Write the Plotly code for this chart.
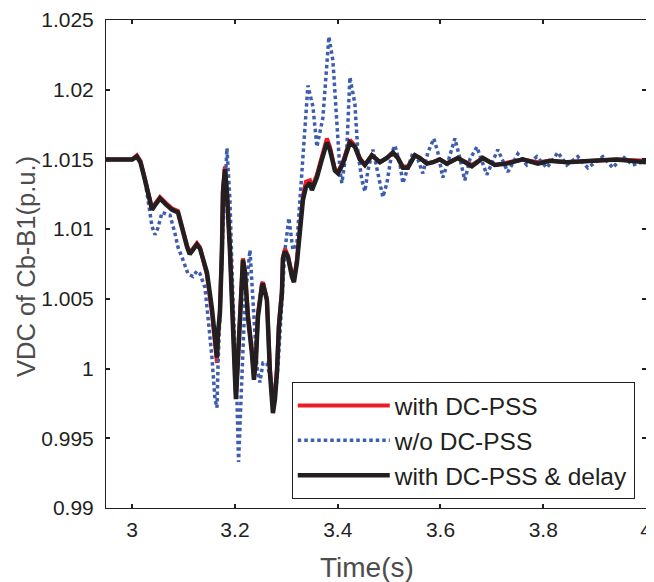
import plotly.graph_objects as go

# ---- data ----
t_black = [2.949, 2.975, 3.000, 3.009, 3.016, 3.025, 3.035, 3.0385, 3.046, 3.054, 3.065, 3.077, 3.089,
           3.097, 3.107, 3.112, 3.119, 3.126, 3.132, 3.138, 3.1455, 3.1552, 3.1611, 3.1650, 3.1669,
           3.1708, 3.1747, 3.1766, 3.1805, 3.1844, 3.1902, 3.1961, 3.2000, 3.2019, 3.2058, 3.2097,
           3.2136, 3.2155, 3.2194, 3.2253, 3.2330, 3.2369, 3.2408, 3.2447, 3.2525, 3.2544, 3.2622,
           3.2642, 3.2681, 3.2739, 3.2778, 3.2817, 3.2856, 3.2914, 3.2934, 3.2973, 3.3031, 3.3109,
           3.3148, 3.3206, 3.3264, 3.3323, 3.3381, 3.3459, 3.3498, 3.3595, 3.3692, 3.3790, 3.3848,
           3.3945, 3.4004, 3.4101, 3.4237, 3.4334, 3.4432, 3.4529, 3.4665, 3.4821, 3.4957, 3.5074,
           3.5171, 3.5268, 3.5365, 3.5502, 3.5599, 3.5735, 3.5852, 3.5988, 3.6124, 3.6338, 3.6611,
           3.6825, 3.7058, 3.7291, 3.7603, 3.7895, 3.8128, 3.8459, 3.8965, 3.9432, 4.0]
v_black = [1.0150, 1.0150, 1.0150, 1.0152, 1.0148, 1.0135, 1.0121, 1.0114, 1.0118, 1.0122, 1.0118, 1.0114, 1.0112,
           1.0100, 1.0087, 1.0082, 1.0086, 1.0089, 1.0086, 1.0078, 1.0069, 1.0043, 1.0020, 1.0008, 1.0025,
           1.0040, 1.0085, 1.0126, 1.0143, 1.0126, 1.0085, 1.0040, 0.9994, 0.9978, 1.0004, 1.0040,
           1.0062, 1.0078, 1.0069, 1.0037, 1.0011, 0.9992, 1.0006, 1.0037, 1.0059, 1.0061, 1.0049,
           1.0026, 0.9997, 0.9968, 0.9978, 0.9997, 1.0030, 1.0054, 1.0079, 1.0084, 1.0080, 1.0066,
           1.0062, 1.0076, 1.0097, 1.0121, 1.0130, 1.0133, 1.0128, 1.0137, 1.0150, 1.0162, 1.0157,
           1.0142, 1.0140, 1.0147, 1.0162, 1.0159, 1.0150, 1.0146, 1.0153, 1.0148, 1.0151, 1.0155,
           1.0151, 1.0144, 1.0144, 1.0153, 1.0151, 1.0147, 1.0148, 1.0150, 1.0147, 1.0151, 1.0145,
           1.0151, 1.0146, 1.0147, 1.0150, 1.0147, 1.0149, 1.0148, 1.0149, 1.0150, 1.0148]

t_red = t_black
v_red = [1.0150, 1.0150, 1.0150, 1.0153, 1.0149, 1.0136, 1.0122, 1.0115, 1.0119, 1.0123, 1.0119, 1.0115, 1.0113,
         1.0101, 1.0088, 1.0083, 1.0087, 1.0090, 1.0087, 1.0079, 1.0067, 1.0040, 1.0016, 1.0004, 1.0022,
         1.0042, 1.0088, 1.0128, 1.0145, 1.0128, 1.0087, 1.0038, 0.9992, 0.9981, 1.0006, 1.0042,
         1.0064, 1.0079, 1.0070, 1.0038, 1.0013, 0.9995, 1.0008, 1.0039, 1.0061, 1.0062, 1.0050,
         1.0028, 1.0000, 0.9975, 0.9982, 1.0000, 1.0033, 1.0056, 1.0080, 1.0086, 1.0081, 1.0068,
         1.0064, 1.0078, 1.0099, 1.0124, 1.0134, 1.0135, 1.0130, 1.0139, 1.0152, 1.0165, 1.0159,
         1.0143, 1.0141, 1.0148, 1.0164, 1.0160, 1.0151, 1.0146, 1.0153, 1.0148, 1.0151, 1.0155,
         1.0151, 1.0145, 1.0145, 1.0153, 1.0151, 1.0147, 1.0148, 1.0150, 1.0147, 1.0151, 1.0146,
         1.0151, 1.0146, 1.0148, 1.0150, 1.0148, 1.0149, 1.0148, 1.0149, 1.0150, 1.0149]

t_blue = [2.949, 2.975, 3.000, 3.009, 3.016, 3.025, 3.0346, 3.0385, 3.0443, 3.0502, 3.058, 3.0735, 3.0832,
          3.0891, 3.0988, 3.1085, 3.1183, 3.1260, 3.1319, 3.1416, 3.1494, 3.1552, 3.1611, 3.1650, 3.1669,
          3.1708, 3.1766, 3.1844, 3.1902, 3.1961, 3.2039, 3.2070, 3.2136, 3.2194, 3.2292, 3.2350,
          3.2428, 3.2486, 3.2544, 3.2622, 3.2681, 3.2778, 3.2836, 3.2914, 3.2973, 3.3050, 3.3128,
          3.3206, 3.3264, 3.3323, 3.3362, 3.3420, 3.3517, 3.3595, 3.3712, 3.3790, 3.3828, 3.3906,
          3.3984, 3.4043, 3.4081, 3.4179, 3.4237, 3.4334, 3.4393, 3.4471, 3.4529, 3.4587, 3.4685,
          3.4782, 3.4879, 3.4957, 3.5054, 3.5113, 3.5210, 3.5268, 3.5365, 3.5463, 3.5560, 3.5657,
          3.5755, 3.5871, 3.5949, 3.6046, 3.6144, 3.6280, 3.6377, 3.6474, 3.6572, 3.6708, 3.6902,
          3.7116, 3.7311, 3.7506, 3.7681, 3.7875, 3.8070, 3.8284, 3.8459, 3.8673, 3.8868, 3.9159,
          3.9354, 3.9549, 3.9743, 4.0]
v_blue = [1.0150, 1.0150, 1.0150, 1.0152, 1.0148, 1.0135, 1.0110, 1.0102, 1.0096, 1.0101, 1.0112, 1.0110, 1.0097,
          1.0087, 1.0078, 1.0068, 1.0066, 1.0070, 1.0068, 1.0058, 1.0030, 1.0008, 0.9978, 0.9972, 1.0001,
          1.0040, 1.0100, 1.0158, 1.0121, 1.0049, 0.9978, 0.9933, 0.9990, 1.0049, 1.0085, 1.0049,
          1.0001, 0.9990, 1.0004, 1.0004, 0.9994, 0.9978, 1.0001, 1.0049, 1.0085, 1.0108, 1.0085,
          1.0090, 1.0121, 1.0157, 1.0178, 1.0203, 1.0188, 1.0159, 1.0180, 1.0221, 1.0238, 1.0221,
          1.0178, 1.0142, 1.0133, 1.0159, 1.0209, 1.0190, 1.0155, 1.0135, 1.0127, 1.0142, 1.0157,
          1.0140, 1.0123, 1.0133, 1.0155, 1.0160, 1.0147, 1.0133, 1.0145, 1.0155, 1.0150, 1.0140,
          1.0155, 1.0165, 1.0155, 1.0137, 1.0148, 1.0165, 1.0151, 1.0135, 1.0150, 1.0159, 1.0139,
          1.0157, 1.0141, 1.0154, 1.0146, 1.0152, 1.0144, 1.0155, 1.0146, 1.0152, 1.0144, 1.0152,
          1.0144, 1.0152, 1.0146, 1.0149]

series_names = ["with DC-PSS", "w/o DC-PSS", "with DC-PSS & delay"]

x_ticks = [3.0, 3.2, 3.4, 3.6, 3.8, 4.0]
x_ticktext = ["3", "3.2", "3.4", "3.6", "3.8", "4"]
y_ticks = [0.99, 0.995, 1.0, 1.005, 1.01, 1.015, 1.02, 1.025]
y_ticktext = ["0.99", "0.995", "1", "1.005", "1.01", "1.015", "1.02", "1.025"]

x_title = "Time(s)"
y_title = "VDC of Cb-B1(p.u.)"

x_range = [2.949, 4.0]
y_range = [0.99, 1.025]

# ---- figure ----
TXT = "#231F20"
TITLE_C = "#4D4D4D"
FONT = "Liberation Sans, Arial, sans-serif"

fig = go.Figure()
fig.add_trace(go.Scatter(x=t_red, y=v_red, mode="lines", name=series_names[0],
                         legendgroup="a",
                         line=dict(color="#ED1C24", width=4)))
fig.add_trace(go.Scatter(x=t_blue, y=v_blue, mode="lines", name=series_names[1],
                         legendgroup="b",
                         line=dict(color="#3F5DAE", width=3.5, dash="3.5px,3px")))
fig.add_trace(go.Scatter(x=t_black, y=v_black, mode="lines", name=series_names[2],
                         legendgroup="c",
                         line=dict(color="#231F20", width=4.5)))

axis_common = dict(showgrid=False, zeroline=False, showline=True, linecolor=TXT, linewidth=1,
                   mirror="allticks", ticks="inside", ticklen=4, tickwidth=1.5, tickcolor=TXT,
                   automargin=False,
                   tickfont=dict(family=FONT, size=21, color=TXT))

# the page body has an 8px default margin, so the figure is sized to leave it
fig.update_layout(
    width=646, height=574,
    margin=dict(l=98, r=8, t=12, b=74),
    paper_bgcolor="white", plot_bgcolor="white",
    font=dict(family=FONT, color=TXT),
    xaxis=dict(range=x_range, tickvals=x_ticks, ticktext=x_ticktext, ticklabelstandoff=3,
               **axis_common),
    yaxis=dict(range=y_range, tickvals=y_ticks, ticktext=y_ticktext, ticklabelstandoff=7,
               **axis_common),
    legend=dict(x=0.344, y=0.258, xanchor="left", yanchor="top",
                bgcolor="white", bordercolor=TXT, borderwidth=1,
                font=dict(family=FONT, size=24.5, color=TXT),
                itemwidth=92, tracegroupgap=3, traceorder="normal"),
    showlegend=True,
    annotations=[
        dict(text=x_title, xref="paper", yref="paper", x=0.484, y=-0.121,
             xanchor="center", yanchor="middle", showarrow=False,
             font=dict(family=FONT, size=28, color=TITLE_C)),
        dict(text=y_title, xref="paper", yref="paper", x=-0.148, y=0.494,
             xanchor="center", yanchor="middle", showarrow=False, textangle=-90,
             font=dict(family=FONT, size=25.5, color=TITLE_C)),
    ],
)

fig.write_html("out.html")
